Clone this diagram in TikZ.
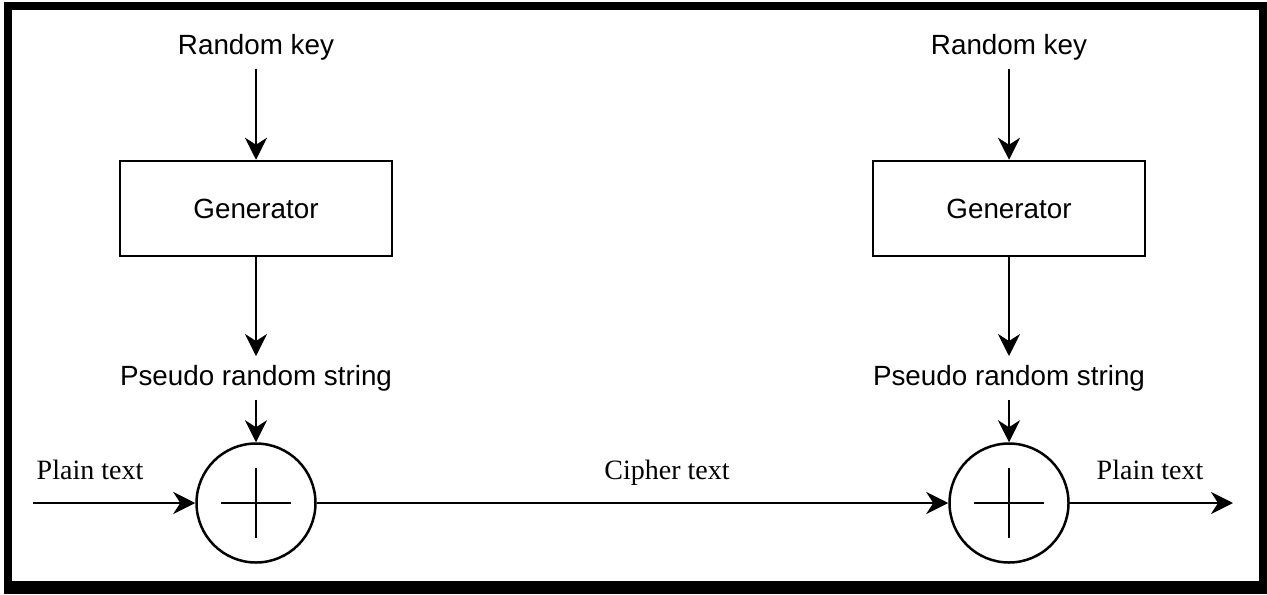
\documentclass[tikz,border=0pt]{standalone}
\usepackage{fontspec}
\setmainfont{Liberation Serif}
\newfontfamily\arialf{Liberation Sans}
\usetikzlibrary{arrows.meta}
\begin{document}
\begin{tikzpicture}[x=0.5pt,y=-0.5pt,
  line width=1.25pt,
  arr/.style={-{Stealth[length=11pt,width=11pt,inset=3.5pt]}},
  sanslabel/.style={font=\arialf\fontsize{13.9pt}{16pt}\selectfont, text height=0.716em, text depth=0pt, inner xsep=2pt, inner ysep=6.7pt, anchor=base},
  seriflabel/.style={font=\fontsize{14pt}{16pt}\selectfont, inner sep=0pt, anchor=base},
  genbox/.style={draw, minimum width=136pt, minimum height=47.5pt, inner sep=0pt, font=\arialf\fontsize{13.9pt}{16pt}\selectfont},
  xorcirc/.style={draw, circle, minimum size=59.5pt, inner sep=0pt},
  plusline/.style={line width=1.25pt}
]
\useasboundingbox (0,0) rectangle (1267,594);
\fill[black] (4,2) rectangle (1267,594);
\fill[white] (12,10) rectangle (1259,581);

% left chain
\node[sanslabel] (rk1) at (256,54) {Random key};
\node[genbox] (gen1) at (256,208.5) {Generator};
\node[sanslabel] (prs1) at (256,385) {Pseudo random string};
\node[xorcirc] (xor1) at (256,503) {};
\draw[plusline] ([xshift=-17.5pt]xor1.center) -- ([xshift=17.5pt]xor1.center);
\draw[plusline] ([yshift=-17.5pt]xor1.center) -- ([yshift=17.5pt]xor1.center);

% right chain
\node[sanslabel] (rk2) at (1009,54) {Random key};
\node[genbox] (gen2) at (1009,208.5) {Generator};
\node[sanslabel] (prs2) at (1009,385) {Pseudo random string};
\node[xorcirc] (xor2) at (1009,503) {};
\draw[plusline] ([xshift=-17.5pt]xor2.center) -- ([xshift=17.5pt]xor2.center);
\draw[plusline] ([yshift=-17.5pt]xor2.center) -- ([yshift=17.5pt]xor2.center);

% labels
\node[seriflabel] (pt1) at (90,479) {Plain text};
\node[seriflabel] (ct) at (667,479) {Cipher text};
\node[seriflabel] (pt2) at (1150,479) {Plain text};

\coordinate (in) at (33,503);
\coordinate (out) at (1233,503);

% connectors
\draw[arr] (rk1) -- (gen1);
\draw[arr] (gen1) -- (prs1);
\draw[arr] (prs1) -- (xor1);
\draw[arr] (rk2) -- (gen2);
\draw[arr] (gen2) -- (prs2);
\draw[arr] (prs2) -- (xor2);
\draw[arr] (in) -- (xor1);
\draw[arr] (xor1) -- (xor2);
\draw[arr] (xor2) -- (out);
\end{tikzpicture}
\end{document}
